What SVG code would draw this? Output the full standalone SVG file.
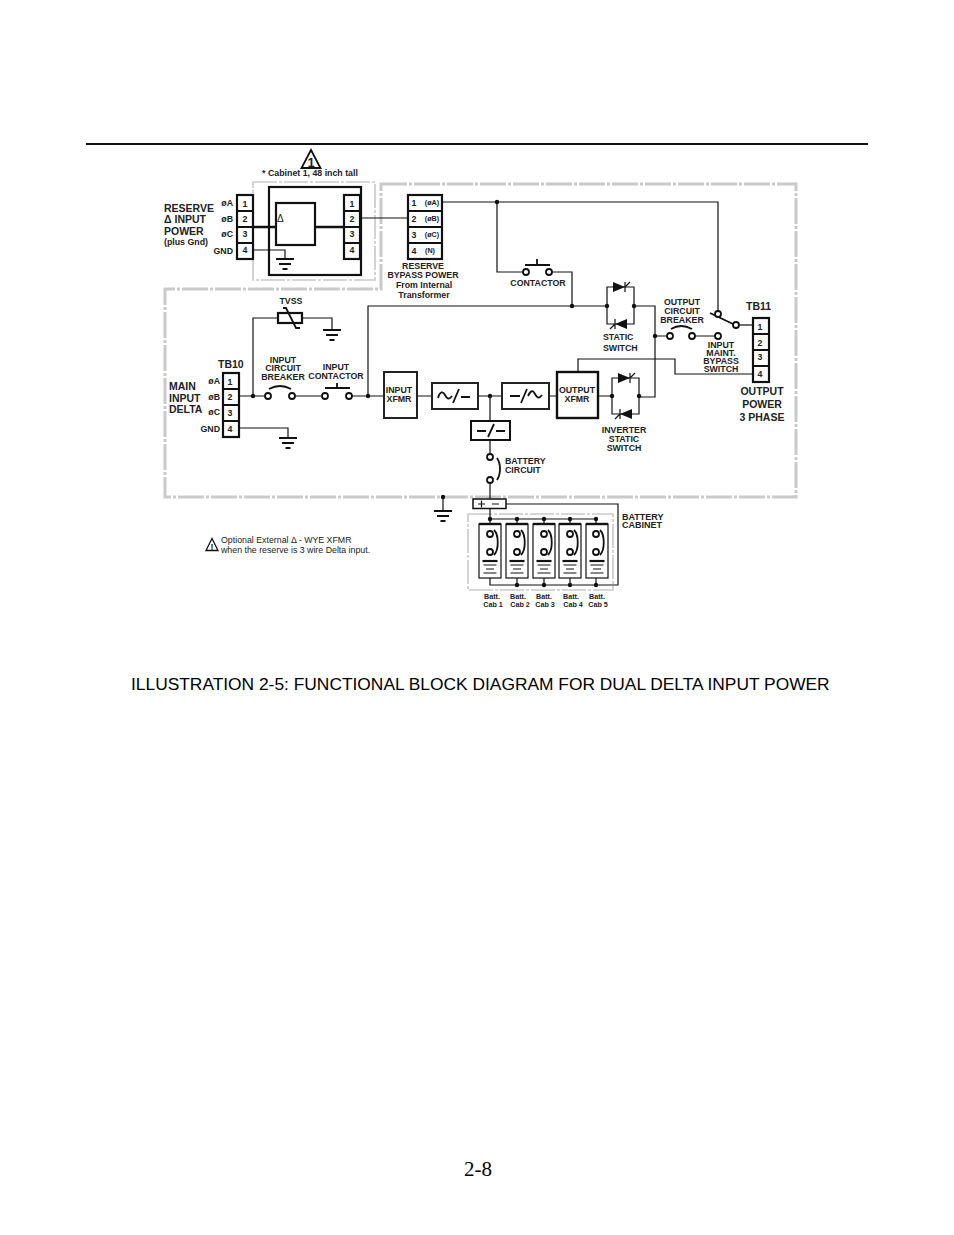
<svg xmlns="http://www.w3.org/2000/svg" width="954" height="1235" viewBox="0 0 954 1235">
<style>
text{font-family:"Liberation Sans",Arial,sans-serif;font-weight:700;font-size:8.800px;fill:#222}
.m{text-anchor:middle}
.e{text-anchor:end}
.l{font-size:10.500px}
.h{font-size:10.500px}
.s{font-size:7.200px}
.n{font-weight:400}
.w{fill:none;stroke:#111;stroke-width:1.200}
.t{fill:none;stroke:#111;stroke-width:2.400}
.r{fill:none;stroke:#111;stroke-width:1.800}
.b{fill:#fff;stroke:#111;stroke-width:2.200}
.g{fill:none;stroke:#c9c9c9;stroke-width:3;stroke-dasharray:26 2 3 2}
.g2{fill:none;stroke:#c9c9c9;stroke-width:1.600;stroke-dasharray:24 2 3 2}
.o{fill:#fff;stroke:#111;stroke-width:1.800}
.d{fill:#111}
.a{fill:none;stroke:#111;stroke-width:1.800}
</style>
<defs>
<circle id="dot" r="2.200" class="d"/>
<circle id="ring" r="3" class="o"/>
<g id="gnd"><path d="M-9 0H9M-6 5H6M-2.500 10H2.500" fill="none" stroke="#111" stroke-width="1.800"/></g>
<g id="tb"><rect width="16" height="64" class="b"/><path d="M0 16H16M0 32H16M0 48H16" class="r"/></g>
<g id="bat"><path d="M-7.500 0H7.500" stroke="#111" stroke-width="2.200"/><path d="M-6.500 4H6.500M-4 8H4M-6.500 12H6.500" class="w"/></g>
<g id="brk"><use href="#ring" x="0" y="0"/><use href="#ring" x="0" y="18"/><path d="M4-4C9 1 9 16 4 21" class="a"/></g>
<path id="diodeR" d="M-7-5L5 0L-7 5Z" class="d"/>
<path id="diodeL" d="M7-5L-5 0L7 5Z" class="d"/>
</defs>

<path id="header-rule" d="M86 144H868" stroke="#111" stroke-width="2"/>

<g id="boundaries">
<path d="M381 184H796V497H165V289H381Z" class="g"/>
<rect x="253" y="182" width="122" height="98" class="g2"/>
<rect x="468" y="514" width="145" height="76" class="g2"/>
</g>

<g id="connectors">
<path d="M253 227H276M315 227H344" class="t"/>
<path d="M253 250H285V259" class="w"/>
<path d="M360 218H408" class="w"/>
<path d="M442 202H718V312" class="w"/>
<path d="M497 202V272H523M552 272H572V306" class="w"/>
<path d="M368 396V306H607" class="w"/>
<path d="M634 306H655V397H639" class="w"/>
<path d="M655 336H667M695 336H715" class="w"/>
<path d="M739 325H753" class="w"/>
<path d="M710 313L733 324" class="a"/>
<path d="M753 374H675V359H578V372" class="w"/>
<path d="M238 396H265M295 396H322M352 396H383" class="w"/>
<path d="M253 396V318H278M303 318H332V330" class="w"/>
<path d="M238 428H288V438" class="w"/>
<path d="M417 396H432M478 396H502M549 396H557M598 396H612" class="w"/>
<path d="M490 396V421M490 440V454M490 483V499" class="w"/>
<path d="M443 497V511" class="w"/>
<path d="M490 508V519M490 519H596M506 504H618V585H490V578" class="w"/>
<path d="M490 519V531M517 519V531M544 519V531M570 519V531M596 519V531" class="w"/>
<path d="M490 555V561M517 555V561M544 555V561M570 555V561M596 555V561" class="w"/>
<path d="M517 578V585M544 578V585M570 578V585M596 578V585" class="w"/>
<g>
<use href="#dot" x="497" y="202"/><use href="#dot" x="572" y="306"/><use href="#dot" x="607" y="306"/><use href="#dot" x="634" y="306"/><use href="#dot" x="655" y="336"/>
<use href="#dot" x="253" y="396"/><use href="#dot" x="368" y="396"/><use href="#dot" x="490" y="396"/><use href="#dot" x="612" y="396"/><use href="#dot" x="639" y="396"/>
<use href="#dot" x="443" y="497"/>
<use href="#dot" x="490" y="519"/><use href="#dot" x="517" y="519"/><use href="#dot" x="544" y="519"/><use href="#dot" x="570" y="519"/><use href="#dot" x="596" y="519"/>
<use href="#dot" x="517" y="585"/><use href="#dot" x="544" y="585"/><use href="#dot" x="570" y="585"/><use href="#dot" x="596" y="585"/>
</g>
</g>

<g id="warning-1">
<path d="M311 150L301.500 168H320.500Z" fill="#fff" stroke="#111" stroke-width="1.800"/>
<text x="311" y="167" class="m" style="font-size:13px">1</text>
<text x="310" y="176" class="m">* Cabinet 1, 48 inch tall</text>
</g>

<g id="cabinet-1">
<rect x="269" y="187" width="92" height="88" fill="none" stroke="#111" stroke-width="2.200"/>
<rect x="276" y="203" width="39" height="42" class="b"/>
<text x="277" y="222" style="font-size:10px;font-weight:400">Δ</text>
<use href="#tb" x="344" y="195"/>
<text x="352" y="207" class="m">1</text><text x="352" y="222" class="m">2</text><text x="352" y="237" class="m">3</text><text x="352" y="253" class="m">4</text>
<use href="#gnd" x="285" y="259"/>
</g>

<g id="tb-reserve">
<use href="#tb" x="237" y="195"/>
<text x="245" y="207" class="m">1</text><text x="245" y="222" class="m">2</text><text x="245" y="237" class="m">3</text><text x="245" y="253" class="m">4</text>
<text x="233" y="206" class="e">øA</text><text x="233" y="222" class="e">øB</text><text x="233" y="237" class="e">øC</text><text x="233" y="254" class="e">GND</text>
<text x="164" y="212" class="l">RESERVE</text>
<text x="164" y="223" class="l">Δ INPUT</text>
<text x="164" y="235" class="l">POWER</text>
<text x="164" y="245">(plus Gnd)</text>
</g>

<g id="tb-bypass">
<rect x="408" y="195" width="34" height="64" class="b"/>
<path d="M408 211H442M408 227H442M408 243H442" class="r"/>
<text x="414" y="206" class="m">1</text><text x="414" y="222" class="m">2</text><text x="414" y="238" class="m">3</text><text x="414" y="254" class="m">4</text>
<text x="432" y="205" class="m s">(øA)</text><text x="432" y="221" class="m s">(øB)</text><text x="432" y="237" class="m s">(øC)</text><text x="430" y="253" class="m s">(N)</text>
<text x="423" y="269" class="m">RESERVE</text><text x="423" y="278" class="m">BYPASS POWER</text><text x="424" y="288" class="m">From Internal</text><text x="424" y="298" class="m">Transformer</text>
</g>

<g id="contactor">
<use href="#ring" x="526" y="272"/><use href="#ring" x="549" y="272"/>
<path d="M525 265H550M537 259V265" class="a"/>
<text x="538" y="286" class="m">CONTACTOR</text>
</g>

<g id="static-switch">
<path d="M607 306V287H634V324H607V306" class="w"/>
<use href="#diodeR" x="620" y="287"/><path d="M625 282V292M625 287L630 282" class="w"/>
<use href="#diodeL" x="620" y="324"/><path d="M615 319V329M615 324L610 329" class="w"/>
<text x="603" y="340">STATIC</text><text x="603" y="351">SWITCH</text>
</g>

<g id="output-breaker">
<use href="#ring" x="670" y="336"/><use href="#ring" x="692" y="336"/>
<path d="M671 329Q681 323 692 329" class="a"/>
<text x="682" y="305" class="m">OUTPUT</text><text x="682" y="314" class="m">CIRCUIT</text><text x="682" y="323" class="m">BREAKER</text>
</g>

<g id="bypass-switch">
<use href="#ring" x="718" y="314"/><use href="#ring" x="736" y="325"/><use href="#ring" x="718" y="336"/>
<text x="721" y="348" class="m">INPUT</text><text x="721" y="356" class="m">MAINT.</text><text x="721" y="364" class="m">BYPASS</text><text x="721" y="372" class="m">SWITCH</text>
</g>

<g id="tb11">
<use href="#tb" x="753" y="318"/>
<text x="760" y="330" class="m">1</text><text x="760" y="346" class="m">2</text><text x="760" y="360" class="m">3</text><text x="760" y="377" class="m">4</text>
<text x="746" y="310" class="h">TB11</text>
<text x="762" y="395" class="m h">OUTPUT</text><text x="762" y="408" class="m h">POWER</text><text x="762" y="421" class="m h">3 PHASE</text>
</g>

<g id="tvss">
<rect x="278" y="313" width="24" height="10" class="b"/>
<path d="M283 308H286L296 328H300" class="a"/>
<text x="291" y="304" class="m">TVSS</text>
<use href="#gnd" x="332" y="330"/>
</g>

<g id="tb10">
<use href="#tb" x="223" y="373"/>
<text x="230" y="385" class="m">1</text><text x="230" y="400" class="m">2</text><text x="230" y="416" class="m">3</text><text x="230" y="432" class="m">4</text>
<text x="220" y="384" class="e">øA</text><text x="220" y="400" class="e">øB</text><text x="220" y="415" class="e">øC</text><text x="220" y="432" class="e">GND</text>
<text x="218" y="368" class="h">TB10</text>
<text x="169" y="390" class="l">MAIN</text><text x="169" y="402" class="l">INPUT</text><text x="169" y="413" class="l">DELTA</text>
<use href="#gnd" x="288" y="438"/>
</g>

<g id="input-breaker">
<use href="#ring" x="268" y="396"/><use href="#ring" x="292" y="396"/>
<path d="M269 389Q280 383 291 389" class="a"/>
<text x="283" y="363" class="m">INPUT</text><text x="283" y="371" class="m">CIRCUIT</text><text x="283" y="380" class="m">BREAKER</text>
</g>

<g id="input-contactor">
<use href="#ring" x="325" y="396"/><use href="#ring" x="349" y="396"/>
<path d="M325 388H350M337 383V388" class="a"/>
<text x="336" y="370" class="m">INPUT</text><text x="336" y="379" class="m">CONTACTOR</text>
</g>

<g id="input-xfmr">
<rect x="384" y="372" width="33" height="46" fill="#fff" stroke="#222" stroke-width="2"/>
<text x="399" y="393" class="m">INPUT</text><text x="399" y="402" class="m">XFMR</text>
</g>

<g id="rectifier">
<rect x="432" y="383" width="46" height="26" fill="#fff" stroke="#222" stroke-width="2"/>
<path d="M438 398C440 391 443 391 445 395C447 399 449 400 452 396M453 403L459 389M461 397H470" class="a"/>
</g>

<g id="inverter">
<rect x="502" y="383" width="47" height="26" fill="#fff" stroke="#222" stroke-width="2"/>
<path d="M510 396H520M521 403L527 389M528 396C531 390 533 390 535 394C537 398 539 399 542 395" class="a"/>
</g>

<g id="output-xfmr">
<rect x="557" y="372" width="41" height="46" fill="#fff" stroke="#111" stroke-width="2.400"/>
<text x="577" y="393" class="m">OUTPUT</text><text x="577" y="402" class="m">XFMR</text>
</g>

<g id="inverter-switch">
<path d="M612 396V378H639V414H612V396" class="w"/>
<use href="#diodeR" x="625" y="378"/><path d="M630 373V383M630 378L635 373" class="w"/>
<use href="#diodeL" x="625" y="414"/><path d="M620 409V419M620 414L615 419" class="w"/>
<text x="624" y="433" class="m">INVERTER</text><text x="624" y="442" class="m">STATIC</text><text x="624" y="451" class="m">SWITCH</text>
</g>

<g id="dc-converter">
<rect x="471" y="421" width="39" height="19" fill="#fff" stroke="#111" stroke-width="2"/>
<path d="M477 431H486M488 437L494 424M496 431H505" class="a"/>
</g>

<g id="battery-circuit">
<use href="#ring" x="490" y="457"/><use href="#ring" x="490" y="480"/>
<path d="M497 458C501 464 501 474 497 480" class="a"/>
<text x="505" y="464">BATTERY</text><text x="505" y="473">CIRCUIT</text>
</g>

<g id="dc-bus">
<rect x="473" y="499" width="33" height="9.500" fill="#fff" stroke="#111" stroke-width="1.500"/>
<path d="M478 504H485M481.500 500.500V507.500M492 504H499" class="w"/>
<use href="#gnd" x="443" y="511"/>
</g>

<g id="batt-1"><rect x="479" y="524" width="22" height="54" fill="#fff" stroke="#111" stroke-width="1.200"/><path d="M479 524H501" stroke="#111" stroke-width="2.400"/><use href="#brk" x="490" y="534"/><use href="#bat" x="490" y="561"/><text x="492" y="599" class="m s">Batt.</text><text x="493" y="607" class="m s">Cab 1</text></g>
<g id="batt-2"><rect x="506" y="524" width="22" height="54" fill="#fff" stroke="#111" stroke-width="1.200"/><path d="M506 524H528" stroke="#111" stroke-width="2.400"/><use href="#brk" x="517" y="534"/><use href="#bat" x="517" y="561"/><text x="518" y="599" class="m s">Batt.</text><text x="520" y="607" class="m s">Cab 2</text></g>
<g id="batt-3"><rect x="533" y="524" width="22" height="54" fill="#fff" stroke="#111" stroke-width="1.200"/><path d="M533 524H555" stroke="#111" stroke-width="2.400"/><use href="#brk" x="544" y="534"/><use href="#bat" x="544" y="561"/><text x="544" y="599" class="m s">Batt.</text><text x="545" y="607" class="m s">Cab 3</text></g>
<g id="batt-4"><rect x="559" y="524" width="22" height="54" fill="#fff" stroke="#111" stroke-width="1.200"/><path d="M559 524H581" stroke="#111" stroke-width="2.400"/><use href="#brk" x="570" y="534"/><use href="#bat" x="570" y="561"/><text x="571" y="599" class="m s">Batt.</text><text x="573" y="607" class="m s">Cab 4</text></g>
<g id="batt-5"><rect x="586" y="524" width="22" height="54" fill="#fff" stroke="#111" stroke-width="1.200"/><path d="M586 524H608" stroke="#111" stroke-width="2.400"/><use href="#brk" x="596" y="534"/><use href="#bat" x="597" y="561"/><text x="597" y="599" class="m s">Batt.</text><text x="598" y="607" class="m s">Cab 5</text></g>

<g id="battery-cabinet-label"><text x="622" y="520" style="font-size:9px">BATTERY</text><text x="622" y="528" style="font-size:9px">CABINET</text></g>

<g id="note">
<path d="M212 538.500L206 550.500H218Z" fill="#fff" stroke="#111" stroke-width="1.300"/>
<text x="212" y="550" class="m" style="font-size:9px">!</text>
<text x="221" y="543" class="n">Optional External Δ - WYE XFMR</text>
<text x="221" y="553" class="n">when the reserve is 3 wire Delta input.</text>
</g>

<text id="caption" x="131" y="690" class="n" style="font-size:17.370px;fill:#000">ILLUSTRATION 2-5: FUNCTIONAL BLOCK DIAGRAM FOR DUAL DELTA INPUT POWER</text>
<text id="page-number" x="464" y="1176" class="n" style="font-family:'Liberation Serif',serif;font-size:21px;fill:#000">2-8</text>
</svg>
